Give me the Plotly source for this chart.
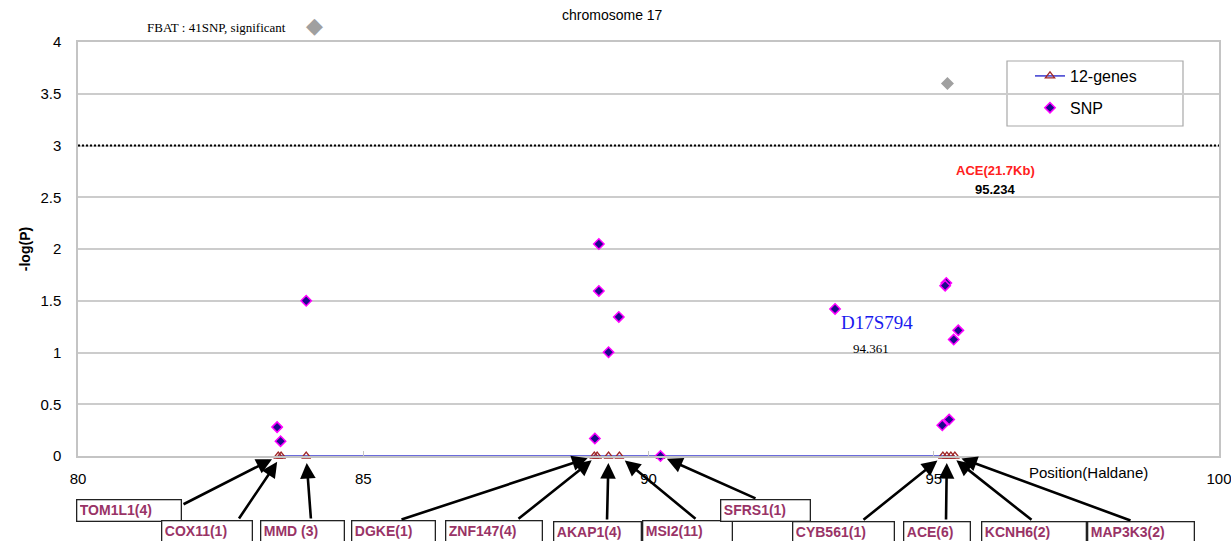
import plotly.graph_objects as go

# ---------------- data ----------------
gene_names = ["TOM1L1(4)", "COX11(1)", "MMD (3)", "DGKE(1)", "ZNF147(4)", "AKAP1(4)",
              "MSI2(11)", "SFRS1(1)", "CYB561(1)", "ACE(6)", "KCNH6(2)", "MAP3K3(2)"]
gene_pos = [83.51, 83.56, 84.00, 89.05, 89.10, 89.30, 89.49, 90.21, 95.16, 95.23, 95.30, 95.37]
gene_logp = [0, 0, 0, 0, 0, 0, 0, 0, 0, 0, 0, 0]

snp_pos = [83.49, 83.55, 84.00, 89.13, 89.13, 89.48, 89.30, 89.06, 90.21,
           93.27, 95.22, 95.20, 95.43, 95.35, 95.27, 95.15]
snp_logp = [0.279, 0.143, 1.50, 2.048, 1.595, 1.344, 1.002, 0.169, 0.0,
            1.421, 1.672, 1.646, 1.214, 1.125, 0.352, 0.297]

sig_pos = [95.24]
sig_logp = [3.60]

threshold = 3
x_ticks = [80, 85, 90, 95, 100]
y_ticks = [0, 0.5, 1, 1.5, 2, 2.5, 3, 3.5, 4]

# ---------------- layout geometry ----------------
W, H = 1231, 541
ML, MR, MT, MB = 78, 12, 42, 85
PW = W - ML - MR
PH = H - MT - MB
X0, X1 = 80, 100
Y0, Y1 = 0, 4


def px2x(px):
    return X0 + (px - ML) / PW * (X1 - X0)


def py2y(py):
    return Y0 + (MT + PH - py) / PH * (Y1 - Y0)


def px2paper(px):
    return (px - ML) / PW


def py2paper(py):
    return (MT + PH - py) / PH


FONT = "Arial, Liberation Sans, Helvetica, sans-serif"
SERIF = "Times New Roman, Liberation Serif, serif"
GENE_COLOR = "#993366"

fig = go.Figure()

fig.add_trace(go.Scatter(
    x=gene_pos, y=gene_logp, mode="lines+markers", name="12-genes",
    line=dict(color="#3a3ad0", width=1.5),
    marker=dict(symbol="triangle-up-open", size=8, color="#a02828",
                line=dict(width=1.3, color="#a02828")),
    cliponaxis=False, legendgroup="g1",
))

fig.add_trace(go.Scatter(
    x=snp_pos, y=snp_logp, mode="markers", name="SNP",
    marker=dict(symbol="diamond", size=8, color="#1c0a8c",
                line=dict(width=1.5, color="#ff00ff")),
    cliponaxis=False, legendgroup="g2",
))

fig.add_trace(go.Scatter(
    x=sig_pos, y=sig_logp, mode="markers", showlegend=False,
    marker=dict(symbol="diamond", size=10, color="#a0a0a0",
                line=dict(width=0)),
    cliponaxis=False,
))

# threshold dotted line
shapes = [dict(type="line", xref="x", yref="y", x0=X0, x1=X1, y0=threshold, y1=threshold,
               line=dict(color="black", width=2, dash="2px,2px"), layer="above")]

# legend box border
shapes.append(dict(type="rect", xref="paper", yref="paper",
                   x0=px2paper(1007), x1=px2paper(1183),
                   y0=py2paper(126), y1=py2paper(61),
                   line=dict(color="#a8a8a8", width=1.2), fillcolor="white", layer="below"))

annotations = []


def label(text, px, py, family, size, color):
    annotations.append(dict(text=text, xref="paper", yref="paper",
                            x=px2paper(px), y=py2paper(py), xanchor="center", yanchor="middle",
                            showarrow=False, font=dict(family=family, size=size, color=color)))


label("chromosome 17", 612, 15, FONT, 14, "black")
label("FBAT : 41SNP, significant", 216, 27, SERIF, 13, "black")
label("\u25c6", 314, 25, "DejaVu Sans", 22, "#a0a0a0")
label("<b>ACE(21.7Kb)</b>", 995, 170, FONT, 13, "#ff2020")
label("<b>95.234</b>", 995, 189, FONT, 13, "black")
label("D17S794", 877, 322, SERIF, 19, "#1a1aee")
label("94.361", 871, 348, SERIF, 13, "black")
label("Position(Haldane)", 1088, 472, FONT, 15, "black")

# gene label boxes: (left, top, width) in px, and arrow tail (px)
box_layout = [
    (76, 499, 106, 182, 505),
    (161, 520, 92, 238, 520),
    (260, 520, 85, 311, 520),
    (351, 520, 85, 400, 520),
    (445, 520, 98, 517, 520),
    (553, 521, 89, 607, 521),
    (642, 520, 91, 697, 520),
    (720, 499, 91, 757, 499),
    (792, 521, 103, 862, 521),
    (903, 521, 68, 946, 521),
    (981, 521, 106, 1033, 521),
    (1087, 521, 108, 1132, 521),
]

for name, gx, gy, (bl, bt, bw, tx, ty) in zip(gene_names, gene_pos, gene_logp, box_layout):
    annotations.append(dict(
        text="<b>%s</b>" % name, xref="paper", yref="paper",
        x=px2paper(bl), y=py2paper(bt), xanchor="left", yanchor="top",
        width=bw - 8, height=15, align="left", valign="middle",
        showarrow=False, bgcolor="white", bordercolor="#222222", borderwidth=1.3,
        borderpad=2.5,
        font=dict(family=FONT, size=14, color=GENE_COLOR)))
    annotations.append(dict(
        text="", x=gx, y=gy, xref="x", yref="y", axref="x", ayref="y",
        ax=px2x(tx), ay=py2y(ty), showarrow=True,
        arrowhead=2, arrowsize=1.2, arrowwidth=2.6, arrowcolor="black",
        standoff=7))

fig.update_layout(
    width=W, height=H,
    margin=dict(l=ML, r=MR, t=MT, b=MB, pad=0, autoexpand=False),
    paper_bgcolor="white", plot_bgcolor="white",
    showlegend=True,
    legend=dict(x=px2paper(1030), y=py2paper(59), xanchor="left", yanchor="top",
                bgcolor="rgba(0,0,0,0)", borderwidth=0,
                font=dict(family=FONT, size=16, color="black"),
                traceorder="grouped", tracegroupgap=8),
    shapes=shapes, annotations=annotations,
    font=dict(family=FONT, color="black"),
)

fig.update_xaxes(range=[X0, X1], tickvals=x_ticks, ticktext=[str(t) for t in x_ticks],
                 showgrid=False, zeroline=False, automargin=False,
                 showline=True, linecolor="#c4c4c4", linewidth=1.5, mirror=True,
                 ticks="inside", ticklen=5, tickcolor="#c4c4c4", tickwidth=1,
                 ticklabelstandoff=8, ticklabeloverflow="allow",
                 tickfont=dict(family=FONT, size=15, color="black"))

fig.update_yaxes(range=[Y0, Y1], tickvals=y_ticks, ticktext=[("%g" % t) for t in y_ticks],
                 showgrid=True, gridcolor="#cccccc", gridwidth=1.5, zeroline=False,
                 automargin=False, ticklabeloverflow="allow",
                 showline=True, linecolor="#c4c4c4", linewidth=1.5, mirror=True,
                 ticks="", ticklabelstandoff=12,
                 tickfont=dict(family=FONT, size=15, color="black"),
                 title=dict(text="<b>-log(P)</b>", standoff=6,
                            font=dict(family=FONT, size=14, color="black")))

fig.write_html("out.html", config={"displayModeBar": False},
               post_script="document.body.style.margin='0';document.body.style.overflow='hidden';")
